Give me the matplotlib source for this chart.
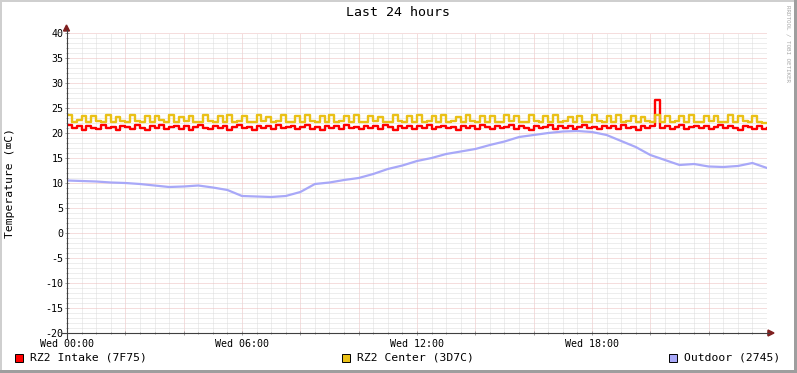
import numpy as np
import matplotlib
matplotlib.use('Agg')
import matplotlib.pyplot as plt
from matplotlib.patches import Rectangle, Polygon
from matplotlib.lines import Line2D
from matplotlib.ticker import MultipleLocator, FuncFormatter

W, H = 797, 373
MONO = ['DejaVu Sans Mono', 'DejaVu Sans']

# --- data (hours since Wed 00:00) ---
# intake / center sampled every 10 min
intake = [
    21.6, 21.0, 21.4, 20.7, 21.5, 21.1, 20.8, 21.6, 21.0, 21.3, 20.6, 21.5,
    21.2, 20.9, 21.6, 21.0, 20.7, 21.4, 21.1, 21.6, 20.8, 21.2, 21.5, 20.9,
    21.4, 20.7, 21.3, 21.6, 21.0, 20.8, 21.5, 21.1, 21.4, 20.7, 21.2, 21.6,
    21.0, 21.3, 20.6, 21.5, 21.1, 21.4, 20.8, 21.6, 21.0, 21.2, 21.5, 20.8,
    21.3, 21.6, 20.9, 21.2, 20.7, 21.5, 21.1, 21.4, 20.8, 21.6, 21.0, 21.3,
    20.8, 21.5, 21.1, 21.4, 20.9, 21.6, 21.2, 20.7, 21.4, 21.0, 21.5, 20.9,
    21.4, 21.1, 21.6, 20.8, 21.3, 21.5, 21.0, 21.2, 20.7, 21.5, 21.1, 21.4,
    20.9, 21.6, 21.2, 20.8, 21.5, 21.0, 21.3, 21.6, 20.9, 21.4, 21.1, 20.7,
    21.5, 21.0, 21.3, 21.6, 20.8, 21.4, 21.1, 21.5, 20.9, 21.2, 21.6, 21.0,
    21.3, 20.8, 21.5, 21.1, 21.4, 20.9, 21.6, 21.0, 21.3, 20.7, 21.5, 21.1,
    21.4, 26.6, 21.0, 21.5, 20.8, 21.3, 21.6, 20.9, 21.2, 21.5, 21.0, 21.4,
    20.8, 21.3, 21.6, 21.0, 21.4, 21.1, 20.7, 21.5, 21.2, 20.9, 21.4, 20.8,
    21.1,
]
center = [
    23.6, 22.3, 22.6, 23.4, 22.2, 23.5, 22.4, 22.3, 23.6, 22.2, 23.3, 22.5,
    22.2, 23.7, 22.4, 22.3, 23.5, 22.2, 23.4, 22.6, 22.3, 23.6, 22.2, 23.3,
    22.4, 23.5, 22.2, 22.3, 23.6, 22.5, 22.2, 23.4, 22.3, 23.7, 22.2, 22.4,
    23.5, 22.3, 22.2, 23.6, 22.4, 23.3, 22.2, 22.5, 23.7, 22.3, 22.2, 23.4,
    22.2, 23.6, 22.4, 22.3, 23.5, 22.2, 23.7, 22.3, 22.4, 23.4, 22.2, 23.6,
    22.3, 22.2, 23.5, 22.4, 23.3, 22.2, 22.3, 23.6, 22.5, 22.2, 23.4, 22.3,
    23.6, 22.2, 22.4, 23.5, 22.3, 23.7, 22.2, 22.4, 23.3, 22.2, 23.6, 22.4,
    22.3, 23.5, 22.2, 23.4, 22.3, 22.2, 23.6, 22.4, 23.5, 22.2, 22.3, 23.7,
    22.4, 22.2, 23.5, 22.3, 23.6, 22.2, 22.4, 23.3, 22.2, 23.5, 22.3, 22.2,
    23.6, 22.4, 22.2, 23.4, 22.3, 23.7, 22.2, 22.5, 23.5, 22.2, 23.3, 22.4,
    22.2, 23.6, 22.3, 23.4, 22.2, 22.4, 23.5, 22.2, 23.6, 22.3, 22.2, 23.4,
    22.4, 23.5, 22.2, 22.3, 23.6, 22.2, 23.4, 22.5, 22.2, 23.5, 22.3, 22.1,
    22.1,
]
# outdoor sampled every 30 min
outdoor = [
    10.5, 10.4, 10.3, 10.1, 10.0, 9.8, 9.5, 9.2, 9.3, 9.5, 9.1, 8.6,
    7.4, 7.3, 7.2, 7.4, 8.2, 9.8, 10.1, 10.6, 11.0, 11.8, 12.8, 13.5,
    14.4, 15.0, 15.8, 16.3, 16.8, 17.6, 18.3, 19.2, 19.6, 20.0, 20.3, 20.4,
    20.2, 19.6, 18.4, 17.2, 15.6, 14.6, 13.6, 13.8, 13.3, 13.2, 13.4, 14.0,
    13.0,
]
t10 = np.arange(len(intake)) / 6.0
t30 = np.arange(len(outdoor)) / 2.0

series_names = ['RZ2 Intake (7F75)', 'RZ2 Center (3D7C)', 'Outdoor (2745)']
series_colors = ['#FF0000', '#EAC117', '#A8A8F8']
xtick_labels = ['Wed 00:00', 'Wed 06:00', 'Wed 12:00', 'Wed 18:00']


def fx(x):
    return x / W


def fy(y):
    return (H - y) / H


fig = plt.figure(figsize=(W / 100, H / 100), dpi=100, facecolor='white')
ax = fig.add_axes([fx(67), fy(333), (767 - 67) / W, (333 - 33) / H])
ax.set_xlim(0, 24)
ax.set_ylim(-20, 40)
for s in ax.spines.values():
    s.set_visible(False)

ax.xaxis.set_major_locator(MultipleLocator(2))
ax.xaxis.set_minor_locator(MultipleLocator(0.5))
ax.yaxis.set_major_locator(MultipleLocator(5))
ax.yaxis.set_minor_locator(MultipleLocator(1))
ax.xaxis.set_major_formatter(FuncFormatter(
    lambda v, p: xtick_labels[int(round(v)) // 6] if round(v) % 6 == 0 and 0 <= v < 24 else ''))
ax.yaxis.set_major_formatter(FuncFormatter(lambda v, p: f'{int(round(v))}'))
ax.grid(which='minor', color='#DCDCDC', lw=0.72, ls=(0, (1, 1)))
ax.grid(which='major', color='#EDBDBD', lw=0.72, ls=(0, (1, 1)))
ax.tick_params(which='both', direction='inout', color='#909090', width=0.6)
ax.tick_params(which='major', length=3, labelsize=7.2)
ax.tick_params(axis='y', which='major', pad=1)
ax.tick_params(axis='x', which='major', pad=2.5)
ax.tick_params(which='minor', length=1.5)
for lab in ax.get_xticklabels() + ax.get_yticklabels():
    lab.set_family(MONO)

ax.plot(t10, intake, color=series_colors[0], lw=1.7, drawstyle='steps-post', zorder=3)
ax.plot(t10, center, color=series_colors[1], lw=1.7, drawstyle='steps-post', zorder=4)
ax.plot(t30, outdoor, color=series_colors[2], lw=1.6, zorder=5)

# axes with arrows
fig.add_artist(Line2D([fx(62), fx(769)], [fy(333), fy(333)], color='#404040', lw=0.8))
fig.add_artist(Line2D([fx(66.5), fx(66.5)], [fy(338), fy(30)], color='#404040', lw=0.8))
fig.add_artist(Polygon([(fx(768), fy(330)), (fx(774), fy(333)), (fx(768), fy(336))],
                       closed=True, color='#7F1F1F', transform=fig.transFigure))
fig.add_artist(Polygon([(fx(63.5), fy(31)), (fx(66.5), fy(25)), (fx(69.5), fy(31))],
                       closed=True, color='#7F1F1F', transform=fig.transFigure))

# title, labels, watermark
fig.text(fx(398), fy(13), 'Last 24 hours', ha='center', va='center', family=MONO, fontsize=9.5)
fig.text(fx(10), fy(183), 'Temperature (\u2327C)', ha='center', va='center', rotation=90,
         family=MONO, fontsize=8.2)
fig.text(fx(788), fy(5), 'RRDTOOL / TOBI OETIKER', ha='center', va='top', rotation=270,
         family=MONO, fontsize=4.2, color='#A8A8A8')

# legend
legend_x = [15, 342, 669]
for lx, name, col in zip(legend_x, series_names, series_colors):
    fig.add_artist(Rectangle((fx(lx), fy(362)), 8 / W, 8 / H, transform=fig.transFigure,
                             facecolor=col, edgecolor='black', lw=0.7))
    fig.text(fx(lx + 15), fy(358), name, ha='left', va='center', family=MONO, fontsize=8.2)

# shaded border
fig.add_artist(Rectangle((0, 0), 2 / W, 1, transform=fig.transFigure, color='#CFCFCF', lw=0))
fig.add_artist(Rectangle((0, 1 - 2 / H), 1, 2 / H, transform=fig.transFigure, color='#CFCFCF', lw=0))
fig.add_artist(Rectangle((1 - 3 / W, 0), 3 / W, 1, transform=fig.transFigure, color='#9E9E9E', lw=0))
fig.add_artist(Rectangle((0, 0), 1, 3 / H, transform=fig.transFigure, color='#9E9E9E', lw=0))

fig.savefig('out.png', dpi=100)
